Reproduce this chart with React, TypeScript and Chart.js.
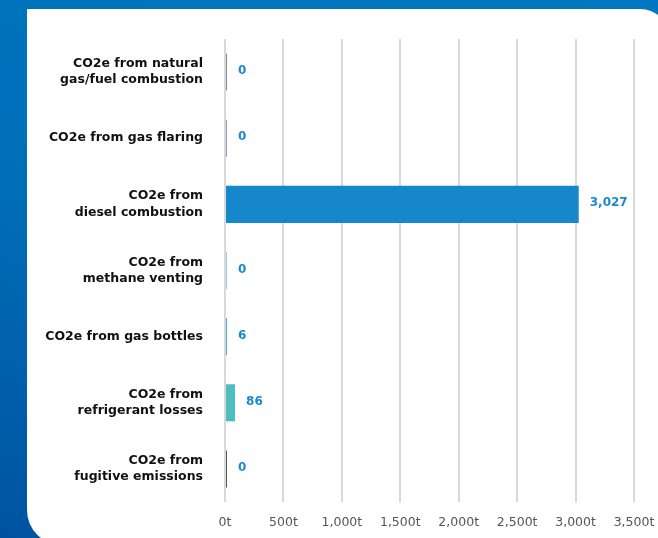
import React, { useEffect, useRef } from "react";
import { Chart, registerables } from "chart.js";

Chart.register(...registerables);

const categories: (string | string[])[] = [
  ["CO2e from natural", "gas/fuel combustion"],
  "CO2e from gas flaring",
  ["CO2e from", "diesel combustion"],
  ["CO2e from", "methane venting"],
  "CO2e from gas bottles",
  ["CO2e from", "refrigerant losses"],
  ["CO2e from", "fugitive emissions"],
];
const values = [0, 0, 3027, 0, 6, 86, 0];
const barColors = ["#8a87a0", "#8c9cc8", "#1787cb", "#8fd6e3", "#3db9d3", "#4dbdbd", "#555555"];
const tickValues = [0, 500, 1000, 1500, 2000, 2500, 3000, 3500];

const valueLabels = {
  id: "valueLabels",
  afterDatasetsDraw(chart: any) {
    const ctx = chart.ctx;
    const meta = chart.getDatasetMeta(0);
    ctx.save();
    ctx.font = "bold 12px 'DejaVu Sans', sans-serif";
    ctx.fillStyle = "#1a8ad0";
    ctx.textAlign = "left";
    ctx.textBaseline = "middle";
    meta.data.forEach((bar: any, i: number) => {
      const v = values[i];
      ctx.fillText(v.toLocaleString("en-US"), bar.x + 11, bar.y - 1);
    });
    ctx.restore();
  },
};

export default function App() {
  const ref = useRef<HTMLCanvasElement>(null);
  useEffect(() => {
    if (!ref.current) return;
    const chart = new Chart(ref.current, {
      type: "bar",
      data: {
        labels: categories,
        datasets: [
          {
            data: values,
            backgroundColor: barColors,
            borderWidth: 0,
            minBarLength: 2,
            barPercentage: 0.7,
            categoryPercentage: 0.8,
          },
        ],
      },
      options: {
        indexAxis: "y",
        animation: false,
        responsive: false,
        maintainAspectRatio: false,
        layout: { padding: { top: 39, right: 24, left: 0, bottom: 0 } },
        plugins: { legend: { display: false }, tooltip: { enabled: false } },
        scales: {
          x: {
            min: 0,
            max: 3500,
            afterFit: (s: any) => {
              s.height = 36;
              s.paddingRight = 0;
              s.paddingLeft = 0;
            },
            afterBuildTicks: (s: any) => { s.ticks = tickValues.map((v) => ({ value: v })); },
            grid: { color: "#d9d9d9", lineWidth: 2, drawTicks: false },
            border: { display: false },
            ticks: {
              padding: 13,
              color: "#555555",
              maxRotation: 0,
              font: { family: "'DejaVu Sans', sans-serif", size: 12.5 },
              callback: (v: any) => Number(v).toLocaleString("en-US") + "t",
            },
          },
          y: {
            afterFit: (s: any) => { s.width = 225; },
            grid: { display: false },
            border: { display: false },
            ticks: {
              padding: 14,
              color: "#111111",
              font: { family: "'DejaVu Sans', sans-serif", size: 12.5, weight: "bold", lineHeight: 1.3 },
            },
          },
        },
      },
      plugins: [valueLabels],
    });
    return () => chart.destroy();
  }, []);

  return (
    <div
      style={{
        position: "fixed",
        left: 0,
        top: 0,
        width: 658,
        height: 538,
        overflow: "hidden",
        background: "linear-gradient(200deg, #0077c0 0%, #0070bb 50%, #0053a0 100%)",
      }}
    >
      <div
        style={{
          position: "absolute",
          left: 27,
          top: 9,
          width: 643,
          height: 536,
          background: "#ffffff",
          borderRadius: "0 30px 0 35px",
        }}
      />
      <canvas ref={ref} width={658} height={538} style={{ position: "absolute", left: 0, top: 0 }} />
    </div>
  );
}
